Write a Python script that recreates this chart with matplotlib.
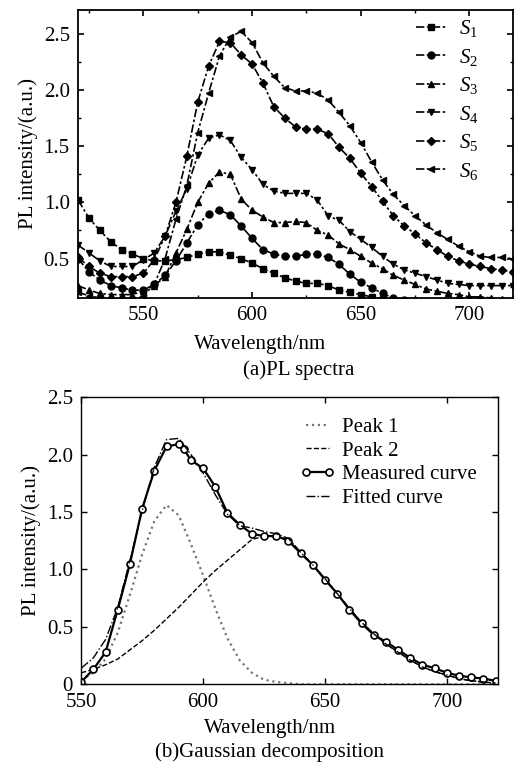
import matplotlib
matplotlib.use("Agg")
import matplotlib.pyplot as plt
from matplotlib.ticker import MultipleLocator

plt.rcParams["font.family"] = ["Liberation Serif", "DejaVu Serif"]
plt.rcParams["mathtext.fontset"] = "custom"
plt.rcParams["mathtext.rm"] = "Liberation Serif"
plt.rcParams["mathtext.it"] = "Liberation Serif:italic"
plt.rcParams["font.size"] = 15

# (a) PL spectra, one point every 5 nm
wl_a = list(range(520, 725, 5))
s1 = [1.02, 0.86, 0.75, 0.65, 0.58, 0.54, 0.50, 0.48, 0.48, 0.49, 0.51, 0.54, 0.56, 0.56,
      0.53, 0.50, 0.46, 0.41, 0.37, 0.33, 0.30, 0.28, 0.28, 0.26, 0.22, 0.20, 0.18, 0.16,
      0.14, 0.12, 0.11, 0.10, 0.09, 0.08, 0.07, 0.07, 0.06, 0.06, 0.05, 0.05, 0.05]
s2 = [0.50, 0.38, 0.31, 0.26, 0.24, 0.22, 0.22, 0.27, 0.35, 0.48, 0.64, 0.80, 0.90, 0.93,
      0.89, 0.79, 0.68, 0.58, 0.54, 0.52, 0.52, 0.54, 0.54, 0.51, 0.45, 0.36, 0.29, 0.24,
      0.19, 0.15, 0.13, 0.11, 0.10, 0.09, 0.08, 0.08, 0.07, 0.07, 0.06, 0.06, 0.06]
s3 = [0.26, 0.22, 0.19, 0.18, 0.18, 0.18, 0.21, 0.26, 0.34, 0.55, 0.76, 1.00, 1.17, 1.27,
      1.25, 1.03, 0.93, 0.87, 0.82, 0.82, 0.83, 0.82, 0.75, 0.71, 0.63, 0.58, 0.52, 0.46,
      0.41, 0.35, 0.31, 0.27, 0.23, 0.21, 0.19, 0.18, 0.16, 0.16, 0.15, 0.14, 0.14]
s4 = [0.62, 0.55, 0.48, 0.43, 0.43, 0.43, 0.49, 0.55, 0.70, 0.92, 1.12, 1.42, 1.57, 1.60,
      1.55, 1.40, 1.29, 1.16, 1.10, 1.08, 1.08, 1.08, 1.02, 0.88, 0.84, 0.74, 0.67, 0.60,
      0.52, 0.45, 0.40, 0.37, 0.34, 0.31, 0.28, 0.27, 0.26, 0.26, 0.26, 0.26, 0.26]
s5 = [0.51, 0.43, 0.37, 0.34, 0.34, 0.34, 0.37, 0.49, 0.70, 1.00, 1.41, 1.89, 2.21, 2.43,
      2.42, 2.31, 2.23, 2.06, 1.85, 1.75, 1.67, 1.65, 1.65, 1.61, 1.49, 1.39, 1.26, 1.14,
      1.01, 0.88, 0.79, 0.72, 0.64, 0.58, 0.52, 0.48, 0.45, 0.43, 0.41, 0.40, 0.38]
s6 = [0.20, 0.17, 0.15, 0.13, 0.12, 0.13, 0.17, 0.27, 0.50, 0.85, 1.15, 1.62, 1.97, 2.30,
      2.47, 2.52, 2.42, 2.24, 2.12, 2.02, 1.99, 1.99, 1.97, 1.91, 1.80, 1.68, 1.53, 1.36,
      1.20, 1.07, 0.97, 0.88, 0.80, 0.73, 0.67, 0.61, 0.56, 0.52, 0.51, 0.51, 0.50]
series_a = [s1, s2, s3, s4, s5, s6]
labels_a = ["$S_1$", "$S_2$", "$S_3$", "$S_4$", "$S_5$", "$S_6$"]
markers_a = ["s", "o", "^", "v", "D", "<"]

# (b) Gaussian decomposition
wl_b = list(range(550, 725, 5))
peak1 = [0.04, 0.10, 0.22, 0.45, 0.78, 1.13, 1.42, 1.56, 1.47, 1.22, 0.95, 0.66, 0.40,
         0.21, 0.10, 0.04, 0.02, 0.01, 0.0, 0.0, 0.0, 0.0, 0.0, 0.0, 0.0, 0.0, 0.0, 0.0,
         0.0, 0.0, 0.0, 0.0, 0.0, 0.0, 0.0]
peak2 = [0.10, 0.13, 0.17, 0.22, 0.30, 0.38, 0.47, 0.57, 0.67, 0.78, 0.89, 0.99, 1.08,
         1.17, 1.26, 1.29, 1.29, 1.26, 1.15, 1.04, 0.92, 0.79, 0.66, 0.54, 0.44, 0.35,
         0.28, 0.21, 0.15, 0.11, 0.08, 0.05, 0.03, 0.02, 0.01]
fitted = [0.14, 0.23, 0.39, 0.67, 1.08, 1.51, 1.89, 2.13, 2.14, 2.00, 1.84, 1.65, 1.48,
          1.38, 1.36, 1.33, 1.31, 1.27, 1.15, 1.04, 0.92, 0.79, 0.66, 0.54, 0.44, 0.35,
          0.28, 0.21, 0.15, 0.11, 0.08, 0.05, 0.03, 0.02, 0.01]
wl_meas = [550, 555, 560, 565, 570, 575, 580, 585, 590, 592, 595, 600, 605, 610, 615, 620,
           625, 630, 635, 640, 645, 650, 655, 660, 665, 670, 675, 680, 685, 690, 695, 700,
           705, 710, 715, 720]
measured = [0.02, 0.13, 0.28, 0.65, 1.05, 1.53, 1.86, 2.07, 2.09, 2.05, 1.95, 1.88, 1.72,
            1.49, 1.39, 1.31, 1.29, 1.29, 1.25, 1.14, 1.04, 0.91, 0.79, 0.65, 0.53, 0.43,
            0.37, 0.30, 0.23, 0.17, 0.14, 0.10, 0.075, 0.06, 0.05, 0.03]

fig = plt.figure(figsize=(5.14, 7.68), dpi=100)

# top panel
ax1 = fig.add_axes([0.152, 0.612, 0.846, 0.375])
for y, lab, m in zip(series_a, labels_a, markers_a):
    ms = 4.5 if m == "D" else 5
    ax1.plot(wl_a, y, linestyle=(0, (5, 1.5, 1.5, 1.5)), color="black", linewidth=1.2,
             marker=m, markersize=ms, label=lab)
ax1.set_xlim(520, 720)
ax1.set_ylim(0.15, 2.71)
ax1.xaxis.set_major_locator(MultipleLocator(50))
ax1.xaxis.set_minor_locator(MultipleLocator(25))
ax1.yaxis.set_major_locator(MultipleLocator(0.5))
ax1.yaxis.set_minor_locator(MultipleLocator(0.25))
ax1.yaxis.set_major_formatter(matplotlib.ticker.FormatStrFormatter("%.1f"))
ax1.tick_params(which="both", direction="in", top=True, right=True)
ax1.tick_params(which="major", length=4, width=1.2, pad=6)
ax1.tick_params(which="minor", length=2.5, width=1)
for sp in ax1.spines.values():
    sp.set_linewidth(1.3)
ax1.set_ylabel("PL intensity/(a.u.)", labelpad=4)
ax1.legend(loc="upper right", bbox_to_anchor=(0.95, 1.015), frameon=False, numpoints=1,
           handlelength=1.5, handletextpad=0.6, labelspacing=0.36, borderaxespad=0.2)
fig.text(0.505, 0.551, "Wavelength/nm", ha="center", va="center")
fig.text(0.582, 0.518, "(a)PL spectra", ha="center", va="center")

# bottom panel
ax2 = fig.add_axes([0.158, 0.109, 0.811, 0.374])
ax2.plot(wl_b, peak1, linestyle=":", color="#777777", linewidth=1.6, label="Peak 1")
ax2.plot(wl_b, peak2, linestyle="--", color="black", linewidth=1.0, label="Peak 2")
ax2.plot(wl_meas, measured, linestyle="-", color="black", linewidth=1.6, marker="o",
         markersize=5, markerfacecolor="white", markeredgewidth=1.2, label="Measured curve")
ax2.plot(wl_b, fitted, linestyle="-.", color="black", linewidth=1.0, label="Fitted curve")
ax2.set_xlim(550, 721)
ax2.set_ylim(0, 2.5)
ax2.xaxis.set_major_locator(MultipleLocator(50))
ax2.set_yticks([0, 0.5, 1.0, 1.5, 2.0, 2.5])
ax2.set_yticklabels(["0", "0.5", "1.0", "1.5", "2.0", "2.5"])
ax2.tick_params(direction="in", top=True, right=True, length=4, width=1.0, pad=6)
for sp in ax2.spines.values():
    sp.set_linewidth(1.0)
ax2.set_ylabel("PL intensity/(a.u.)", labelpad=4)
ax2.legend(loc="upper right", bbox_to_anchor=(0.985, 0.98), frameon=False, numpoints=2,
           handlelength=1.7, handletextpad=0.35, labelspacing=0.2, borderaxespad=0.3)
fig.text(0.525, 0.052, "Wavelength/nm", ha="center", va="center")
fig.text(0.525, 0.021, "(b)Gaussian decomposition", ha="center", va="center")

fig.savefig("out.png", dpi=100)
